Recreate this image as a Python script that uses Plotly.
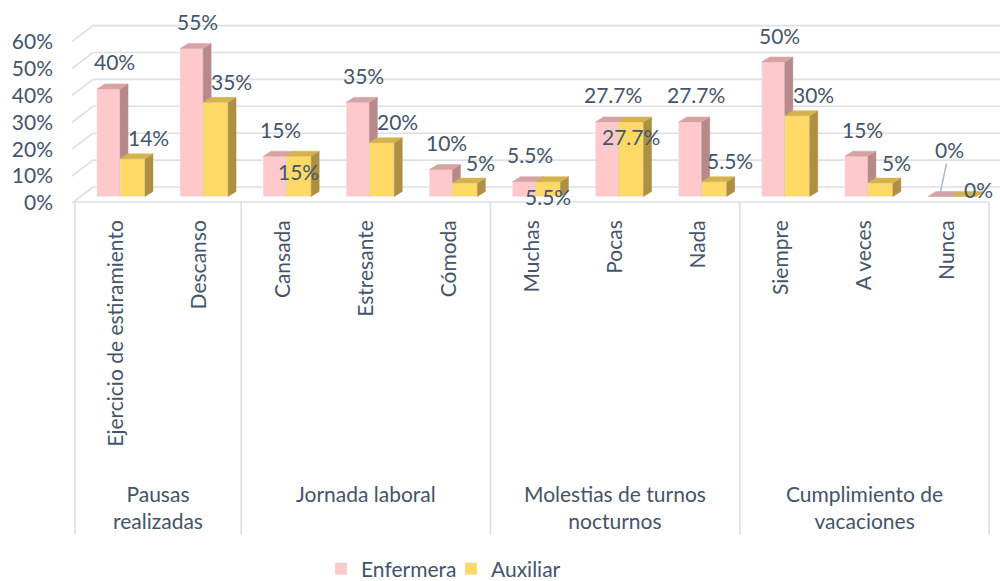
import plotly.graph_objects as go

# ---------------- data ----------------
categories = ["Ejercicio de estiramiento", "Descanso", "Cansada", "Estresante", "Cómoda",
              "Muchas", "Pocas", "Nada", "Siempre", "A veces", "Nunca"]
groups = ["Pausas<br>realizadas", "Jornada laboral", "Molestias de turnos<br>nocturnos",
          "Cumplimiento de<br>vacaciones"]
group_sizes = [2, 3, 3, 3]
enfermera = [0.40, 0.55, 0.15, 0.35, 0.10, 0.055, 0.277, 0.277, 0.50, 0.15, 0.0]
auxiliar = [0.14, 0.35, 0.15, 0.20, 0.05, 0.055, 0.277, 0.055, 0.30, 0.05, 0.0]
y_ticks = [0, 0.1, 0.2, 0.3, 0.4, 0.5, 0.6]

# ---------------- style / geometry ----------------
FONT = "Lato, 'Open Sans', sans-serif"
TXT = "#44546A"
GRID = "#dcdfe4"
PINK, PINK_SIDE, PINK_TOP = "#FFC9CB", "#B8898B", "#D6A3A5"
YEL, YEL_SIDE, YEL_TOP = "#FFD966", "#AE9040", "#D5B34C"
FS = 21

L_M, R_M, T_M, B_M = 72, 0, 15, 376
PLOT_H = 581 - T_M - B_M
CAT_PX = 83.1          # pixels per category
X0_PX = 75             # left divider pixel
UNIT_PX = 269          # pixels per 1.0 (100%)
BASE_PX = 196.5        # bar base pixel
LABEL_BASE_PX = 203    # tick label 0% pixel
SLANT_BASE_PX = 203    # side wall front 0% pixel
GRID_BASE_PX = 187     # back wall 0% pixel
FLOOR_PX = 202
DIV_END_PX = 535
SLANT_END_PX = 93

def px_to_x(px):
    return -0.5 + (px - X0_PX) / CAT_PX

def py_to_paper(py):
    return (T_M + PLOT_H - py) / PLOT_H

bottom_px = T_M + PLOT_H
x_range = [px_to_x(L_M), px_to_x(1000 - R_M)]
y_range = [-(bottom_px - BASE_PX) / UNIT_PX, (BASE_PX - T_M) / UNIT_PX]
y2_range = [-(bottom_px - LABEL_BASE_PX) / UNIT_PX, (LABEL_BASE_PX - T_M) / UNIT_PX]
grid_off = (BASE_PX - GRID_BASE_PX) / UNIT_PX
slant_off = (SLANT_BASE_PX - BASE_PX) / UNIT_PX

W_P, W_Y = 0.278, 0.30
OFF_P, OFF_Y = -0.097, 0.192
D = 8 / CAT_PX
DY = 5 / UNIT_PX

idx = list(range(len(categories)))
xp = [i + OFF_P for i in idx]
xy = [i + OFF_Y for i in idx]


def faces(centers, vals, w):
    sx, sy, tx, ty = [], [], [], []
    for c, v in zip(centers, vals):
        xl, xr = c - w / 2, c + w / 2
        sx += [xr, xr + D, xr + D, xr, xr, None]
        sy += [0, DY, v + DY, v, 0, None]
        tx += [xl, xl + D, xr + D, xr, xl, None]
        ty += [v, v + DY, v + DY, v, v, None]
    return sx, sy, tx, ty


def fmt(v):
    s = f"{v * 100:.1f}".rstrip("0").rstrip(".")
    return s + "%"


fig = go.Figure()

# pink series (main subplot)
fig.add_trace(go.Bar(x=xp, y=enfermera, width=W_P, marker_color=PINK, name="Enfermera",
                     yaxis="y"))
sx, sy, tx, ty = faces(xp, enfermera, W_P)
fig.add_trace(go.Scatter(x=sx, y=sy, fill="toself", mode="lines", fillcolor=PINK_SIDE,
                         line=dict(color=PINK_SIDE, width=0.5), showlegend=False,
                         hoverinfo="skip", yaxis="y"))
fig.add_trace(go.Scatter(x=tx, y=ty, fill="toself", mode="lines", fillcolor=PINK_TOP,
                         line=dict(color=PINK_TOP, width=0.5), showlegend=False,
                         hoverinfo="skip", yaxis="y"))

# axis for tick labels
fig.add_trace(go.Scatter(x=[None], y=[None], yaxis="y2", showlegend=False, hoverinfo="skip"))

# yellow series (overlay subplot, drawn above pink)
fig.add_trace(go.Bar(x=xy, y=auxiliar, width=W_Y, marker_color=YEL, name="Auxiliar",
                     yaxis="y3"))
sx, sy, tx, ty = faces(xy, auxiliar, W_Y)
fig.add_trace(go.Scatter(x=sx, y=sy, fill="toself", mode="lines", fillcolor=YEL_SIDE,
                         line=dict(color=YEL_SIDE, width=0.5), showlegend=False,
                         hoverinfo="skip", yaxis="y3"))
fig.add_trace(go.Scatter(x=tx, y=ty, fill="toself", mode="lines", fillcolor=YEL_TOP,
                         line=dict(color=YEL_TOP, width=0.5), showlegend=False,
                         hoverinfo="skip", yaxis="y3"))

shapes = []
# back wall gridlines with slanted side-wall segment
x_slant = px_to_x(SLANT_END_PX)
for v in y_ticks:
    shapes.append(dict(type="line", xref="x", yref="y", x0=x_slant, x1=x_range[1],
                       y0=v + grid_off, y1=v + grid_off, layer="below",
                       line=dict(color=GRID, width=1.6)))
    shapes.append(dict(type="line", xref="x", yref="y", x0=x_range[0], x1=x_slant,
                       y0=v - slant_off, y1=v + grid_off, layer="below",
                       line=dict(color=GRID, width=1.6)))
# floor front edge
floor_y = -(FLOOR_PX - BASE_PX) / UNIT_PX
shapes.append(dict(type="line", xref="x", yref="y", x0=-0.5, x1=len(categories) - 0.5,
                   y0=floor_y, y1=floor_y, layer="below", line=dict(color=GRID, width=1.6)))
# group dividers
bounds = [-0.5]
for n in group_sizes:
    bounds.append(bounds[-1] + n)
for b in bounds:
    shapes.append(dict(type="line", xref="x", yref="paper", x0=b, x1=b,
                       y0=py_to_paper(FLOOR_PX), y1=py_to_paper(DIV_END_PX),
                       line=dict(color=GRID, width=1.6)))

annotations = []
lab_font = dict(family=FONT, size=FS, color=TXT)
for i in idx:
    vp, va = enfermera[i], auxiliar[i]
    if vp == 0:
        annotations.append(dict(x=xp[i], y=vp, xref="x", yref="y", text=fmt(vp),
                                showarrow=True, arrowhead=0, arrowwidth=1.5,
                                arrowcolor="#ADB9CA", ax=10, ay=-47, standoff=3,
                                font=lab_font))
    else:
        annotations.append(dict(x=xp[i], y=vp, xref="x", yref="y", text=fmt(vp),
                                showarrow=False, xshift=6, yshift=27, font=lab_font))
    if va == 0:
        xs, ys = 15, 7
    elif va == vp:
        xs, ys = 0, -15
    else:
        xs, ys = 16, 21
    annotations.append(dict(x=xy[i], y=va, xref="x", yref="y3", text=fmt(va),
                            showarrow=False, xshift=xs, yshift=ys, font=lab_font))

# group labels
for g, b0, b1 in zip(groups, bounds[:-1], bounds[1:]):
    annotations.append(dict(x=(b0 + b1) / 2, y=py_to_paper(479), xref="x", yref="paper",
                            text=g, showarrow=False, yanchor="top", font=lab_font))

fig.update_layout(
    width=1000, height=581,
    margin=dict(l=L_M, r=R_M, t=T_M, b=B_M, autoexpand=False),
    paper_bgcolor="white", plot_bgcolor="white",
    barmode="overlay",
    font=dict(family=FONT, size=FS, color=TXT),
    xaxis=dict(range=x_range, tickmode="array", tickvals=idx, ticktext=categories,
               tickangle=-90, showgrid=False, zeroline=False, showline=False, ticks="",
               ticklabelstandoff=10, tickfont=lab_font, fixedrange=True),
    yaxis=dict(range=y_range, showticklabels=False, showgrid=False, zeroline=False,
               showline=False, ticks=""),
    yaxis2=dict(range=y2_range, overlaying="y", side="left", anchor="x", tickmode="array",
                tickvals=y_ticks, tickformat=".0%", showgrid=False, zeroline=False,
                showline=False, ticks="", ticklabelstandoff=18, tickfont=lab_font),
    yaxis3=dict(range=y_range, overlaying="y", anchor="x", visible=False),
    legend=dict(orientation="h", x=(321 - L_M) / (1000 - L_M - R_M), xanchor="left",
                y=py_to_paper(569), yanchor="middle", font=lab_font,
                entrywidth=85, entrywidthmode="pixels",
                bgcolor="rgba(0,0,0,0)"),
    shapes=shapes,
    annotations=annotations,
    showlegend=True,
)

fig.write_html("out.html", config={"displayModeBar": False},
               post_script="document.body.style.margin='0';document.body.style.padding='0';")
